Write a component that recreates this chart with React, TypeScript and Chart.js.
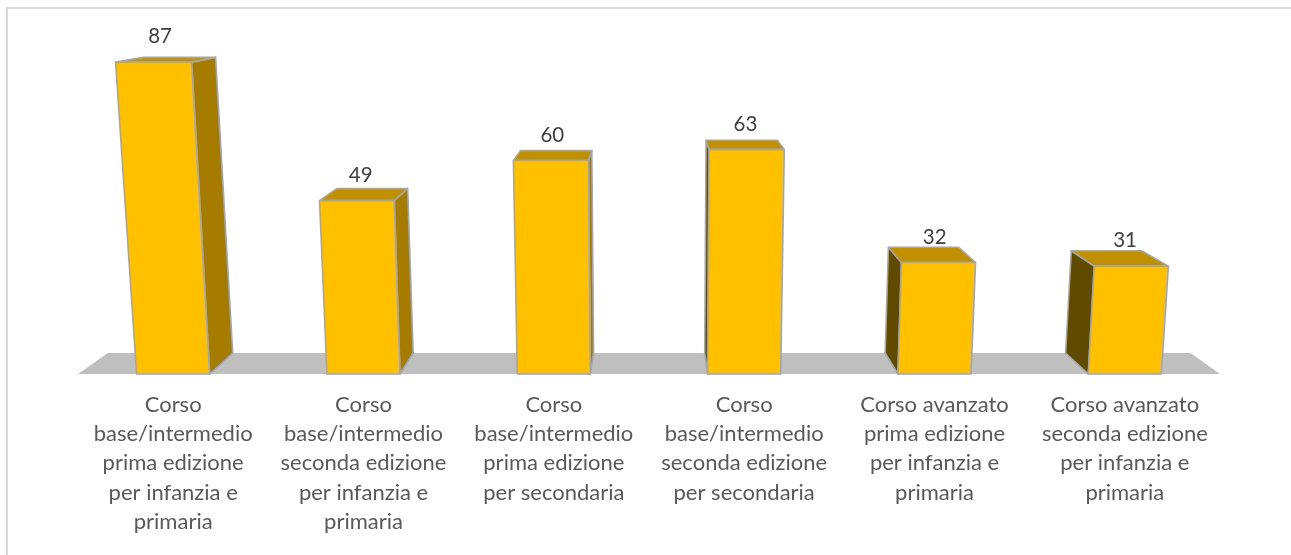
import React, { useEffect, useRef } from "react";
import { Chart, registerables } from "chart.js";

Chart.register(...registerables);

// ---- data ----
const categories: string[][] = [
  ["Corso", "base/intermedio", "prima edizione", "per infanzia e", "primaria"],
  ["Corso", "base/intermedio", "seconda edizione", "per infanzia e", "primaria"],
  ["Corso", "base/intermedio", "prima edizione", "per secondaria"],
  ["Corso", "base/intermedio", "seconda edizione", "per secondaria"],
  ["Corso avanzato", "prima edizione", "per infanzia e", "primaria"],
  ["Corso avanzato", "seconda edizione", "per infanzia e", "primaria"],
];
const values: number[] = [87, 49, 60, 63, 32, 31];

// ---- 3D look ----
const FONT = "Lato, 'Open Sans', sans-serif";
const FLOOR_VALUE = 1.4;
const DEPTH_VP = { x: 652, y: -30 };
const DEPTH = 0.052;
const VERT_VX = 658;
const VERT_D = 7738;

const COL_FRONT = "#FFC000";
const COL_TOP = "#C09000";
const COL_RIGHT = "#A67C00";
const COL_LEFT = "#604A00";
const COL_EDGE = "#A6A6A6";
const COL_FLOOR = "#BFBFBF";

type P = { x: number; y: number };

const depth = (p: P): P => ({
  x: p.x + DEPTH * (DEPTH_VP.x - p.x),
  y: p.y + DEPTH * (DEPTH_VP.y - p.y),
});

const poly = (ctx: CanvasRenderingContext2D, pts: P[], fill: string, stroke?: string) => {
  ctx.beginPath();
  ctx.moveTo(pts[0].x, pts[0].y);
  for (let i = 1; i < pts.length; i++) ctx.lineTo(pts[i].x, pts[i].y);
  ctx.closePath();
  ctx.fillStyle = fill;
  ctx.fill();
  if (stroke) {
    ctx.strokeStyle = stroke;
    ctx.lineWidth = 1.6;
    ctx.lineJoin = "round";
    ctx.stroke();
  }
};

const box3d = {
  id: "box3d",
  beforeDatasetsDraw(chart: any) {
    const { ctx, chartArea } = chart;
    const base = chart.scales.y.getPixelForValue(FLOOR_VALUE);
    const fl = { x: chartArea.left, y: base };
    const fr = { x: chartArea.right, y: base };
    ctx.save();
    poly(ctx, [fl, fr, depth(fr), depth(fl)], COL_FLOOR);
    ctx.restore();
  },
  afterDatasetsDraw(chart: any) {
    const { ctx } = chart;
    const meta = chart.getDatasetMeta(0);
    const ds = chart.data.datasets[0];
    ctx.save();
    meta.data.forEach((el: any, i: number) => {
      const { x, y, base, width } = el.getProps(["x", "y", "base", "width"], true);
      const xl = x - width / 2;
      const xr = x + width / 2;
      const proj = (px: number, py: number): P => ({
        x: px + ((base - py) * (px - VERT_VX)) / VERT_D,
        y: py,
      });
      const FLb = proj(xl, base);
      const FRb = proj(xr, base);
      const FRt = proj(xr, y);
      const FLt = proj(xl, y);
      const BLb = depth(FLb);
      const BRb = depth(FRb);
      const BRt = depth(FRt);
      const BLt = depth(FLt);
      if (DEPTH_VP.x > xr) {
        poly(ctx, [FRb, FRt, BRt, BRb], COL_RIGHT, COL_EDGE);
      } else if (DEPTH_VP.x < xl) {
        poly(ctx, [FLb, FLt, BLt, BLb], COL_LEFT, COL_EDGE);
      }
      poly(ctx, [FLt, FRt, BRt, BLt], COL_TOP, COL_EDGE);
      poly(ctx, [FLb, FRb, FRt, FLt], COL_FRONT, COL_EDGE);

      // value label
      const frontMid = (FLt.x + FRt.x) / 2;
      const backMid = (BLt.x + BRt.x) / 2;
      const lx = frontMid + 0.25 * (backMid - frontMid);
      ctx.fillStyle = "#404040";
      ctx.font = `20.5px ${FONT}`;
      ctx.textAlign = "center";
      ctx.textBaseline = "middle";
      ctx.fillText(String(ds.data[i]), lx, y - 25.5);
    });
    ctx.restore();
  },
};

export default function App() {
  const ref = useRef<HTMLCanvasElement | null>(null);

  useEffect(() => {
    if (!ref.current) return;
    const chart = new Chart(ref.current, {
      type: "bar",
      data: {
        labels: categories,
        datasets: [
          {
            data: values,
            base: FLOOR_VALUE,
            backgroundColor: "rgba(0,0,0,0)",
            borderWidth: 0,
            categoryPercentage: 1,
            barPercentage: 0.384,
          },
        ],
      },
      options: {
        responsive: false,
        animation: false,
        devicePixelRatio: 1,
        layout: { padding: { left: 78, right: 71, top: 14.8, bottom: 0 } },
        plugins: {
          legend: { display: false },
          tooltip: { enabled: false },
        },
        scales: {
          x: {
            grid: { display: false, drawTicks: false },
            border: { display: false },
            afterFit: (s: any) => {
              s.height = 181;
            },
            ticks: {
              autoSkip: false,
              maxRotation: 0,
              minRotation: 0,
              padding: 16.4,
              color: "#595959",
              font: { family: FONT, size: 22, lineHeight: 1.327 },
            },
          },
          y: {
            display: false,
            min: FLOOR_VALUE,
            max: 100,
          },
        },
      },
      plugins: [box3d],
    });
    return () => chart.destroy();
  }, []);

  return (
    <div style={{ position: "fixed", left: 0, top: 0, width: 1291, height: 555, overflow: "hidden", background: "#fff" }}>
      <div
        style={{
          position: "absolute",
          left: 6,
          top: 7,
          width: 1400,
          height: 700,
          border: "2px solid #D9D9D9",
          boxSizing: "border-box",
        }}
      />
      <canvas
        ref={ref}
        width={1291}
        height={555}
        style={{ position: "absolute", left: 0, top: 0, width: 1291, height: 555, display: "block" }}
      />
    </div>
  );
}
